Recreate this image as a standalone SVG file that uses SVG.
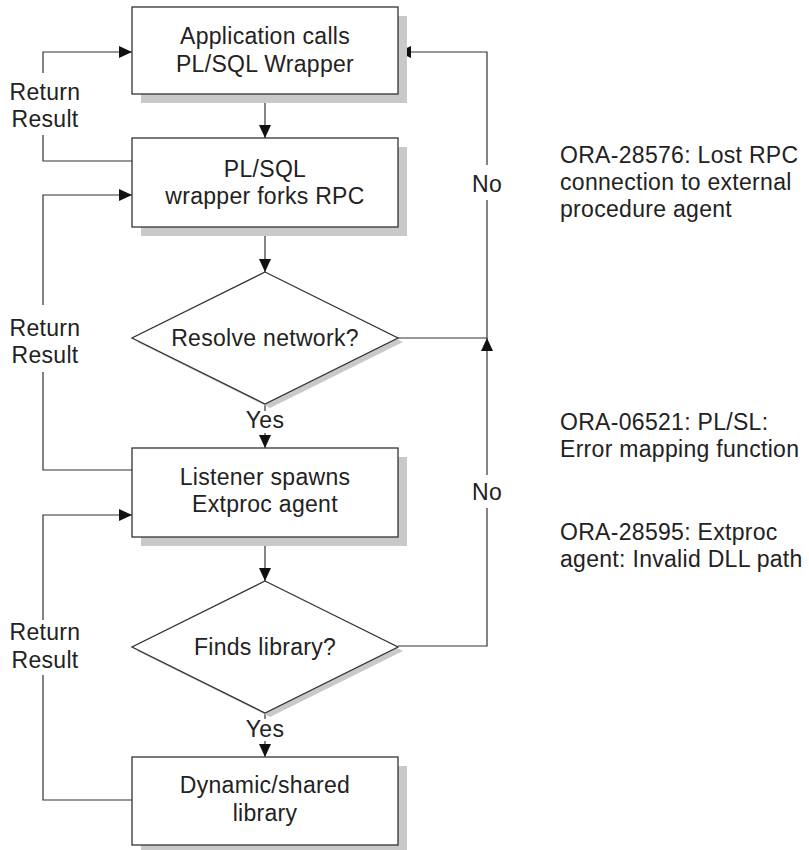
<svg xmlns="http://www.w3.org/2000/svg" width="809" height="850" viewBox="0 0 809 850">
<defs>
<style>
text{font-family:"Liberation Sans",Arial,sans-serif;font-size:23px;fill:#222;letter-spacing:0.3px}
.c{text-anchor:middle}
.box{fill:#fff;stroke:#333;stroke-width:1.3}
.sh{fill:#c9c9c9}
.ln{fill:none;stroke:#333;stroke-width:1.2}
</style>
<marker id="ah" markerWidth="13" markerHeight="12" refX="13" refY="6" orient="auto" markerUnits="userSpaceOnUse"><path d="M0,0 L13,6 L0,12 z" fill="#111"/></marker>
</defs>
<rect width="809" height="850" fill="#fff"/>
<g id="connectors">
<path class="ln" d="M265,95 V138" marker-end="url(#ah)"/>
<path class="ln" d="M265,227 V272" marker-end="url(#ah)"/>
<path class="ln" d="M265,403 V411"/>
<path class="ln" d="M265,433 V448" marker-end="url(#ah)"/>
<path class="ln" d="M265,537 V581" marker-end="url(#ah)"/>
<path class="ln" d="M265,713 V719"/>
<path class="ln" d="M265,741 V757" marker-end="url(#ah)"/>
<path class="ln" d="M132,161 H43 V135"/>
<path class="ln" d="M43,73 V52 H132" marker-end="url(#ah)"/>
<path class="ln" d="M132,470 H43 V372"/>
<path class="ln" d="M43,305 V195 H132" marker-end="url(#ah)"/>
<path class="ln" d="M132,800 H43 V675"/>
<path class="ln" d="M43,620 V515 H132" marker-end="url(#ah)"/>
<path class="ln" d="M398,338 H487 V200"/>
<path class="ln" d="M487,165 V52 H398" marker-end="url(#ah)"/>
<path class="ln" d="M398,646 H487 V508"/>
<path class="ln" d="M487,475 V338" marker-end="url(#ah)"/>
<text class="c" x="45" y="100">Return</text>
<text class="c" x="45" y="127">Result</text>
<text class="c" x="45" y="336">Return</text>
<text class="c" x="45" y="363">Result</text>
<text class="c" x="45" y="640">Return</text>
<text class="c" x="45" y="668">Result</text>
<text class="c" x="487" y="192">No</text>
<text class="c" x="487" y="500">No</text>
<text class="c" x="265" y="428">Yes</text>
<text class="c" x="265" y="737">Yes</text>
</g>
<g id="n1">
<rect class="sh" x="141" y="16" width="266" height="87"/>
<rect class="box" x="132" y="7" width="266" height="87"/>
<text class="c" x="265" y="44">Application calls</text>
<text class="c" x="265" y="71.5">PL/SQL Wrapper</text>
</g>
<g id="n2">
<rect class="sh" x="141" y="147" width="266" height="89"/>
<rect class="box" x="132" y="138" width="266" height="89"/>
<text class="c" x="265" y="177">PL/SQL</text>
<text class="c" x="265" y="204">wrapper forks RPC</text>
</g>
<g id="d1">
<polygon class="sh" points="270,276 403,342 270,408 137,342"/>
<polygon class="box" points="265,272 398,338 265,404 132,338"/>
<text class="c" x="265" y="346">Resolve network?</text>
</g>
<g id="n3">
<rect class="sh" x="141" y="457" width="266" height="89"/>
<rect class="box" x="132" y="448" width="266" height="89"/>
<text class="c" x="265" y="485">Listener spawns</text>
<text class="c" x="265" y="512">Extproc agent</text>
</g>
<g id="d2">
<polygon class="sh" points="270,585 403,651 270,717 137,651"/>
<polygon class="box" points="265,581 398,647 265,713 132,647"/>
<text class="c" x="265" y="655">Finds library?</text>
</g>
<g id="n4">
<rect class="sh" x="141" y="766" width="266" height="88"/>
<rect class="box" x="132" y="757" width="266" height="88"/>
<text class="c" x="265" y="793">Dynamic/shared</text>
<text class="c" x="265" y="821">library</text>
</g>
<g id="notes">
<text x="560" y="163">ORA-28576: Lost RPC</text>
<text x="560" y="190">connection to external</text>
<text x="560" y="217">procedure agent</text>
<text x="560" y="430">ORA-06521: PL/SL:</text>
<text x="560" y="457">Error mapping function</text>
<text x="560" y="540">ORA-28595: Extproc</text>
<text x="560" y="567">agent: Invalid DLL path</text>
</g>
</svg>
